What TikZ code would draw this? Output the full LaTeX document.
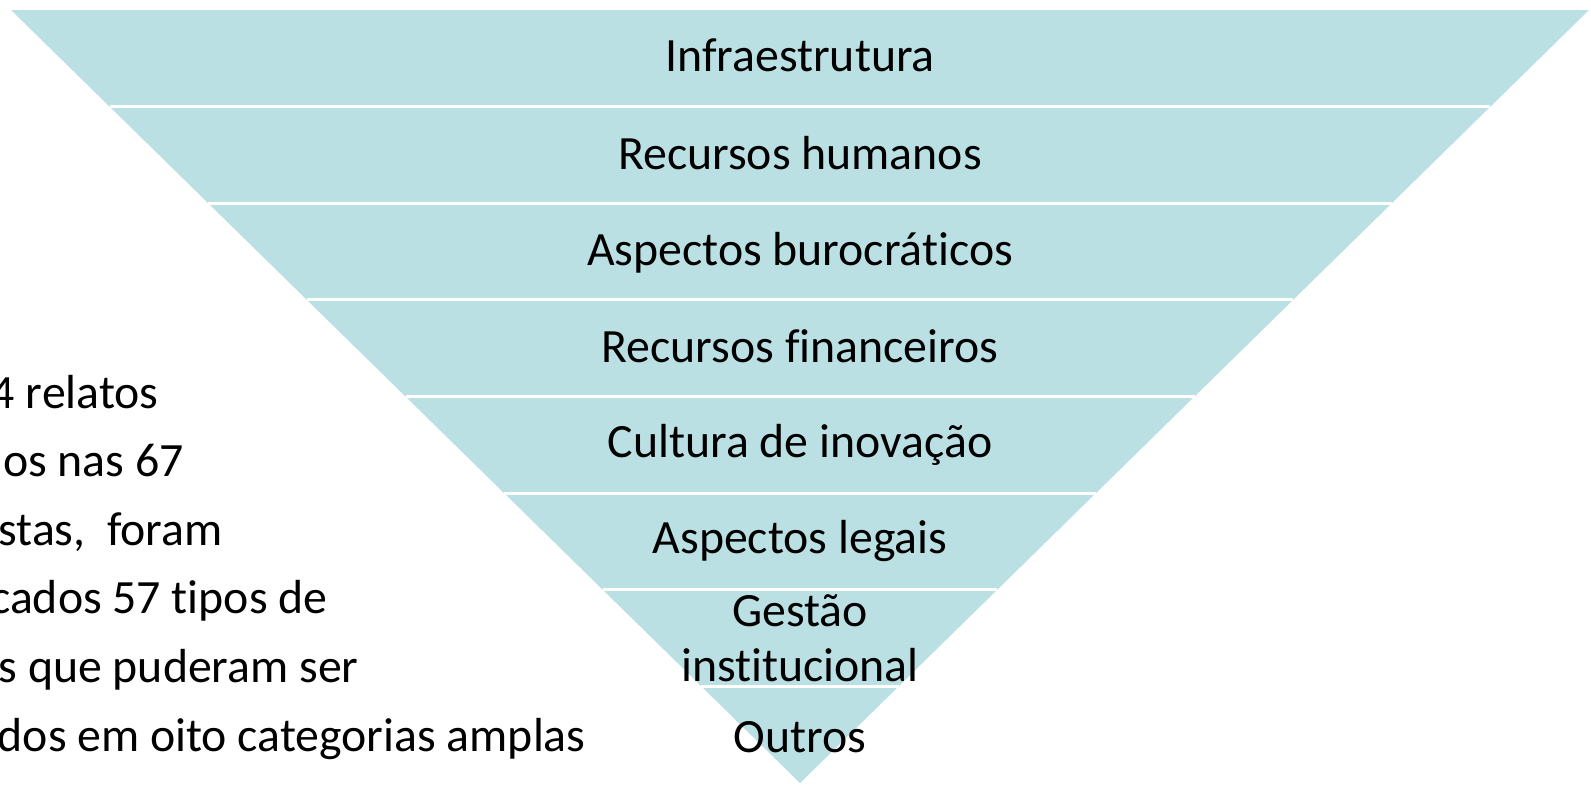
\documentclass[tikz,border=0pt]{standalone}
\usepackage{fontspec}
\setmainfont[Ligatures={NoCommon}]{Carlito}
\usetikzlibrary{calc}
\definecolor{bandfill}{RGB}{187,224,227}
\begin{document}
\begin{tikzpicture}[x=0.02cm,y=-0.02cm,
  lbl/.style={inner sep=0pt,align=center,font=\fontsize{27.2}{31}\selectfont},
  side/.style={inner sep=0pt,anchor=base east,font=\fontsize{27.2}{31}\selectfont}]
\def\bandh{96.625}
\useasboundingbox (0,0) rectangle (1591,785);
\clip (0,0) rectangle (1591,785);
\coordinate (topL) at (11,10);
\coordinate (topR) at (1589,10);
\coordinate (apex) at (800,783);
\fill[bandfill] (topL) -- (topR) -- (apex) -- cycle;
% white gaps between the eight bands
\foreach \i in {1,...,7}
  \draw[white,line width=0.06cm] ($(topL)!\i/8!(apex)$) -- ($(topR)!\i/8!(apex)$);
\node[lbl] (infra) at (800,{7+0.5*\bandh}) {Infraestrutura};
\node[lbl] (rh) at (800,{8+1.5*\bandh}) {Recursos humanos};
\node[lbl] (buro) at (800,{11+2.5*\bandh}) {Aspectos burocráticos};
\node[lbl] (fin) at (800,{8+3.5*\bandh}) {Recursos financeiros};
\node[lbl] (cult) at (800,{10+4.5*\bandh}) {Cultura de inovação};
\node[lbl] (legal) at (800,{10+5.5*\bandh}) {Aspectos legais};
\node[lbl] (gestao) at (800,{10+6.5*\bandh}) {Gestão\\institucional};
\node[lbl] (outros) at (800,{12+7.5*\bandh}) {Outros};
% text on the left, cut by the page edge
\node[side] (rel1) at (159,408) {4 relatos};
\node[side] (rel2) at (184,476.6) {os nas 67};
\node[side] (rel3) at (223,545.2) {stas, \ foram};
\node[side] (rel4) at (328,613.8) {cados 57 tipos de};
\node[side] (rel5) at (359,682.4) {s que puderam ser};
\node[side] (rel6) at (586,751) {dos em oito categorias amplas};
\end{tikzpicture}
\end{document}
